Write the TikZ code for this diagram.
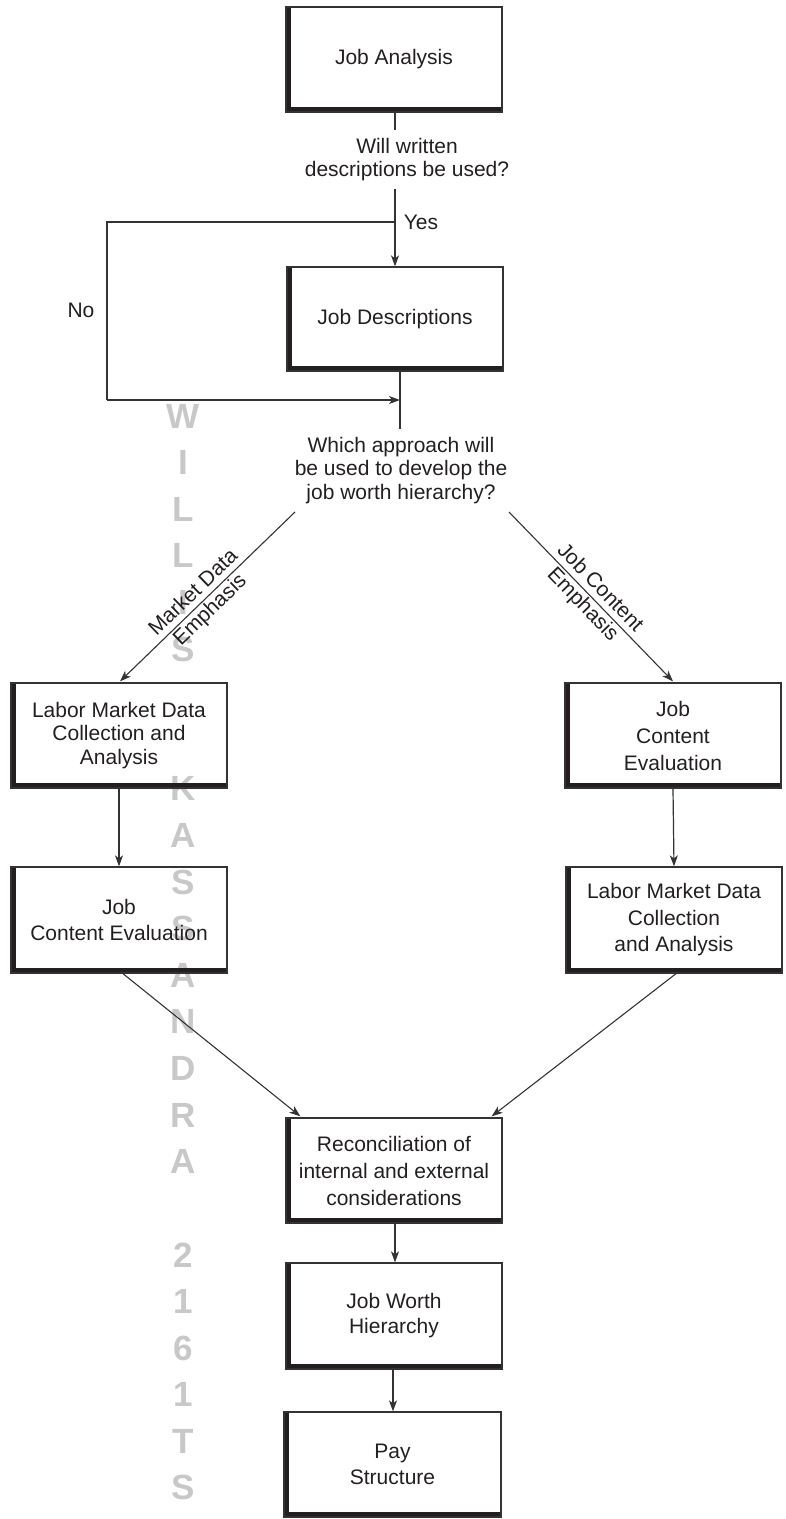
\documentclass[tikz,border=0pt]{standalone}
\usepackage{fontspec}
\setmainfont{Liberation Sans}
\usetikzlibrary{arrows.meta,calc}
\definecolor{ink}{HTML}{231F20}
\definecolor{linec}{HTML}{333333}
\definecolor{wmc}{HTML}{C8C8C8}
\begin{document}
\begin{tikzpicture}[x=1pt,y=-1pt,
  every node/.style={text=ink},
  box/.style={draw=linec, line width=1.3pt, minimum width=216pt, minimum height=105pt,
    inner sep=0pt, align=center, font=\fontsize{21}{26}\selectfont,
    path picture={
      \fill[ink] (path picture bounding box.south west) rectangle ([xshift=4.8pt]path picture bounding box.north west);
      \fill[ink] (path picture bounding box.south west) rectangle ([yshift=5.2pt]path picture bounding box.south east);
    }},
  qtext/.style={align=center, inner xsep=0pt, font=\fontsize{21}{23.5}\selectfont},
  lbl/.style={font=\fontsize{21}{23.5}\selectfont, inner sep=0pt},
  slab/.style={font=\fontsize{21}{24}\selectfont, sloped, align=center, inner sep=0pt},
  wmark/.style={text=wmc, font=\fontsize{35}{35}\selectfont\bfseries, inner sep=0pt},
  conn/.style={draw=linec, line width=1.2pt},
  arr/.style={conn, -{Stealth[length=11pt,width=8pt,inset=3pt]}}
]
\useasboundingbox (0,0) rectangle (785,1519);

% watermark
\foreach \c/\i in {W/0,I/1,L/2,L/3,I/4,S/5,K/8,A/9,S/10,S/11,A/12,N/13,D/14,R/15,A/16,2/18,1/19,6/20,1/21,T/22,S/23}
  \node[wmark] (wm\i) at (183,{416+\i*46.6}) {\c};

% boxes
\node[box] (ja) at (394,59.5) {Job Analysis};
\node[box, minimum height=104pt] (jd) at (395,319) {Job Descriptions};
\node[box, font=\fontsize{21}{23.5}\selectfont] (lm1) at (119,735.5) {Labor Market Data\\Collection and\\Analysis};
\node[box, font=\fontsize{21}{27}\selectfont] (jc1) at (673,735.5) {Job\\Content\\Evaluation};
\node[box, minimum height=106pt] (jc2) at (119,920) {Job\\Content Evaluation};
\node[box, minimum height=106pt, font=\fontsize{21}{26.5}\selectfont] (lm2) at (674,920) {Labor Market Data\\Collection\\and Analysis};
\node[box, font=\fontsize{21}{27}\selectfont] (rec) at (394,1170.5) {Reconciliation of\\internal and external\\considerations};
\node[box, minimum height=106pt, font=\fontsize{21}{25}\selectfont] (jw) at (394,1316) {Job Worth\\Hierarchy};
\node[box, minimum width=217pt] (pay) at (392.5,1464.5) {Pay\\Structure};

% questions
\node[qtext, inner ysep=7.5pt] (q1) at (407,159.5) {Will written\\descriptions be used?};
\node[qtext, inner ysep=8pt] (q2) at (401,470.5) {Which approach will\\be used to develop the\\job worth hierarchy?};

% labels
\node[lbl] (yes) at (421,222) {Yes};
\node[lbl] (no) at (81,310) {No};

% coordinates
\coordinate (ysplit) at (395,222);
\coordinate (c1) at (107,222);
\coordinate (c2) at (107,400);
\coordinate (j1) at (400,400);
\coordinate (d1) at (295,512);
\coordinate (d2) at (509,512);

% connectors
\draw[conn] (ja.south -| ysplit) -- (ysplit |- q1.north);
\draw[arr] (ysplit |- q1.south) -- (ysplit |- jd.north);
\draw[conn] (ysplit) -- (c1) -- (c2);
\draw[arr] (c2) -- (j1);
\draw[conn] (jd.south -| j1) -- (j1 |- q2.north);
\draw[arr, line width=1.1pt] (d1) -- node[slab, pos=0.53] (lblmd) {Market Data\\Emphasis} ($(lm1.north)+(1,-1)$);
\draw[arr, line width=1.1pt] (d2) -- node[slab, pos=0.5] (lbljc) {Job Content\\Emphasis} ($(jc1.north)+(0,-1)$);
\draw[arr] (lm1.south) -- (jc2.north);
\draw[arr] (jc1.south) -- (lm2.north);
\draw[arr, line width=1.1pt] ($(jc2.south)+(4,0)$) -- ($(rec.north west)+(15,-1)$);
\draw[arr, line width=1.1pt] ($(lm2.south)+(2,0)$) -- ($(rec.north east)+(-11,-1)$);
\draw[arr] ($(rec.south)+(1,0)$) -- ($(jw.north)+(1,0)$);
\draw[arr] ($(jw.south)+(-1,0)$) -- ($(pay.north)+(0.5,0)$);
\end{tikzpicture}
\end{document}
